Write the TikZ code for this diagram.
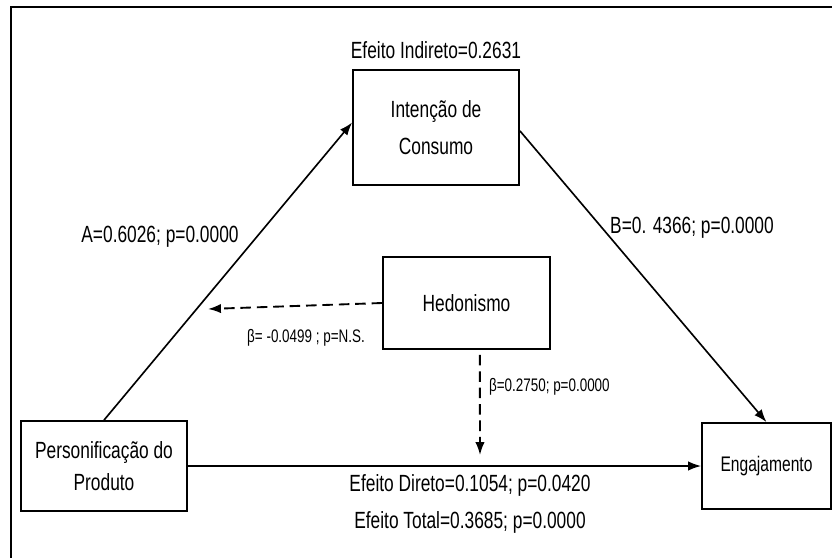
\documentclass[tikz,border=0pt]{standalone}
\usepackage{fontspec}
\setmainfont[FakeStretch=0.74]{Liberation Sans}
\usetikzlibrary{arrows.meta,positioning}

\begin{document}
\begin{tikzpicture}[
    x=0.03cm, y=-0.03cm,
    box/.style={rectangle, draw, line width=1.5pt, align=center, inner sep=0pt, font=\fontsize{20}{30}\selectfont},
    lbl/.style={font=\fontsize{20}{24}\selectfont},
    small/.style={font=\fontsize{15.5}{18}\selectfont},
    arrow/.style={line width=1.4pt,->,>={Latex[length=11pt,width=8pt]}},
    darrow/.style={arrow, line width=1.6pt, dash pattern=on 9pt off 5pt}
]
\clip (0,0) rectangle (832,558);
\draw [line width=1.8pt] (11,7) rectangle (850,580);

% Define the four variables
\node [box, minimum width=4.98cm, minimum height=3.45cm, font=\fontsize{20}{32}\selectfont] (intencao) at (436,127.5) {Intenção de\\Consumo};
\node [box, minimum width=5.01cm, minimum height=2.76cm] (hedonismo) at (466.5,303) {Hedonismo};
\node [box, minimum width=4.98cm, minimum height=2.7cm, font=\fontsize{20}{27}\selectfont] (produto) at (104,466) {Personificação do\\Produto};
\node [box, minimum width=3.87cm, minimum height=2.58cm, font=\fontsize{18}{22}\selectfont] (engaj) at (766.5,466) {Engajamento};

% Free ends of the moderation arrows
\coordinate (tipA) at (208,309);
\coordinate (tipDireto) at (480,455);

% Draw arrows
\draw [arrow] (produto.north) -- ([yshift=0.15cm]intencao.west);
\draw [arrow] ([yshift=-0.1cm]intencao.east) -- (engaj.north);
\draw [arrow] (produto.east) -- (engaj.west);
\draw [darrow] (hedonismo.west) -- (tipA);
\draw [darrow] ([xshift=0.4cm,yshift=-0.15cm]hedonismo.south) -- (tipDireto);

% Coefficients
\node [lbl, above=0.2cm of intencao] (indireto) {Efeito Indireto=0.2631};
\node [lbl] (coefA) at (160,237) {A=0.6026; p=0.0000};
\node [lbl] (coefB) at (692,228) {B=0. 4366; p=0.0000};
\node [small] (betaA) at (306,338) {β= -0.0499 ; p=N.S.};
\node [small, anchor=west] (betaD) at (485,387) {β=0.2750; p=0.0000};
\node [lbl] (direto) at (470,485) {Efeito Direto=0.1054; p=0.0420};
\node [lbl] (total) at (470,522) {Efeito Total=0.3685; p=0.0000};

\end{tikzpicture}
\end{document}
